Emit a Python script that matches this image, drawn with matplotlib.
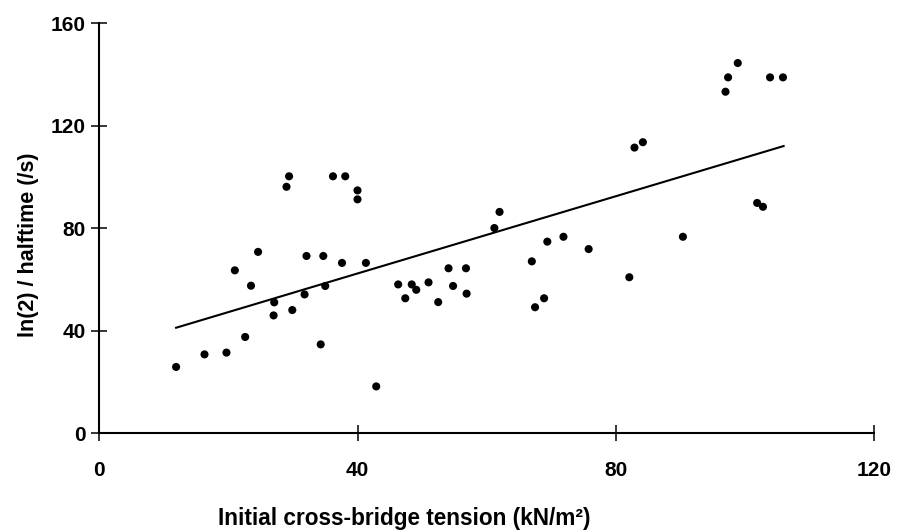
import matplotlib
matplotlib.use("Agg")
import matplotlib.pyplot as plt
import numpy as np

plt.rcParams['font.family'] = ['Liberation Sans', 'DejaVu Sans']

tension = [11.9, 16.3, 19.7, 22.6, 21.0, 23.5, 24.6, 27.1, 27.0, 29.9,
           29.0, 29.4, 32.1, 31.8, 34.3, 34.7, 35.0, 36.2, 38.1, 37.6,
           40.0, 40.0, 41.3, 42.9, 46.3, 47.4, 48.4, 49.1, 51.0, 52.5,
           54.1, 54.8, 56.8, 56.9, 61.2, 62.0, 67.0, 67.5, 68.9, 69.4,
           71.9, 75.8, 82.1, 82.9, 84.2, 90.4, 97.0, 97.4, 98.9, 101.9,
           102.8, 103.9, 105.9]
rate = [25.9, 30.8, 31.5, 37.6, 63.6, 57.6, 70.8, 51.1, 46.0, 48.1,
        96.2, 100.3, 69.2, 54.2, 34.7, 69.2, 57.5, 100.3, 100.3, 66.5,
        94.8, 91.3, 66.5, 18.3, 58.1, 52.7, 58.1, 56.0, 58.9, 51.2,
        64.4, 57.5, 64.4, 54.5, 80.1, 86.4, 67.1, 49.2, 52.7, 74.8,
        76.7, 71.9, 60.9, 111.5, 113.6, 76.7, 133.3, 138.9, 144.5, 89.9,
        88.4, 138.9, 138.9]

fit_x = [11.9, 106.0]
fit_y = [41.2, 112.1]

x_ticks = [0, 40, 80, 120]
y_ticks = [0, 40, 80, 120, 160]

fig = plt.figure(figsize=(9.09, 5.32), dpi=100)
ax = fig.add_axes([0.1092, 0.1855, 0.8523, 0.7707])

ax.scatter(tension, rate, s=34, color='black', edgecolors='none', zorder=3)
ax.plot(fit_x, fit_y, color='black', linewidth=1.5, zorder=2)

ax.set_xlim(0, 120)
ax.set_ylim(0, 160)
ax.set_xticks(x_ticks)
ax.set_yticks(y_ticks)

for s in ['top', 'right']:
    ax.spines[s].set_visible(False)
for s in ['left', 'bottom']:
    ax.spines[s].set_linewidth(1.5)

ax.tick_params(direction='inout', length=11.5, width=1.1, labelsize=15,
               color='black', labelcolor='black')
ax.tick_params(axis='x', pad=14)
ax.tick_params(axis='y', pad=4)
for lab in ax.get_xticklabels() + ax.get_yticklabels():
    lab.set_fontweight('bold')

fig.text(0.031, 0.5395, 'ln(2) / halftime (/s)', fontsize=15.5, fontweight='bold',
         rotation=90, ha='center', va='center')
fig.text(0.4444, 0.0263, 'Initial cross-bridge tension (kN/m²)', fontsize=16.3,
         fontweight='bold', ha='center', va='center')

fig.savefig('out.png', dpi=100)
